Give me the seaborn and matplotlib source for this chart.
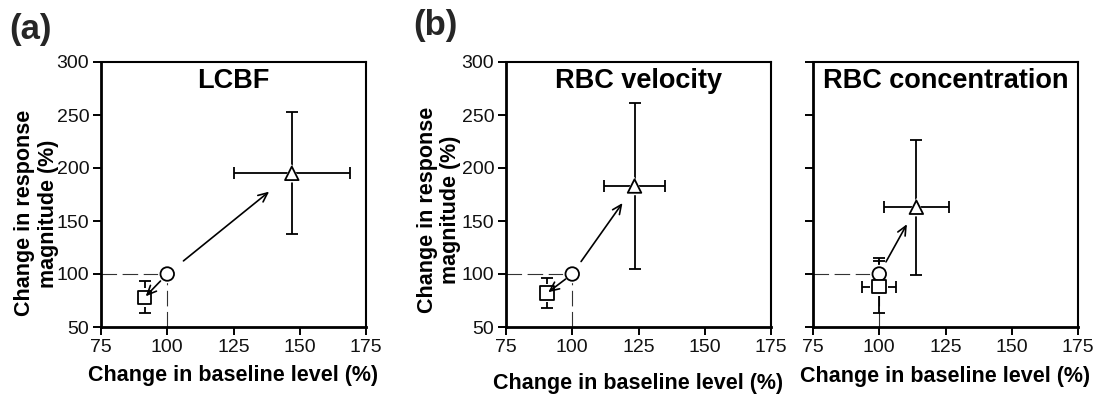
import numpy as np
import pandas as pd
import matplotlib
matplotlib.use("Agg")
import matplotlib.pyplot as plt
import seaborn as sns

# ---------------- data ----------------
conditions = ["Control", "Decrease", "Increase"]
marker_map = {"Control": "o", "Decrease": "s", "Increase": "^"}

panel_titles = ["LCBF", "RBC velocity", "RBC concentration"]

lcbf_x = [100, 91.5, 147]
lcbf_y = [100, 78, 195]
lcbf_xerr = [0, 0, 22]
lcbf_yerr = [0, 15, 57.5]

vel_x = [100, 90.5, 123.5]
vel_y = [100, 82, 183]
vel_xerr = [0, 0, 11.5]
vel_yerr = [0, 14, 78]

conc_x = [100, 100, 114]
conc_y = [100, 88, 163]
conc_xerr = [0, 6.5, 12.3]
conc_yerr = [15, 24.5, 63.5]

# arrows: (from condition index, to condition index)
lcbf_arrows = [(0, 1), (0, 2)]
vel_arrows = [(0, 1), (0, 2)]
conc_arrows = [(0, 2)]

baseline_ref = 100
x_ticks = [75, 100, 125, 150, 175]
y_ticks = [50, 100, 150, 200, 250, 300]

panel_letters = ["(a)", "(b)"]
xlabel_text = "Change in baseline level (%)"
ylabel_text = "Change in response\nmagnitude (%)"

# ---------------- style ----------------
sns.set_theme(style="ticks")
plt.rcParams["font.family"] = ["Liberation Sans", "DejaVu Sans"]

W, H = 1096, 394
fig = plt.figure(figsize=(W / 100, H / 100), dpi=100)

def fx(px):
    return px / W

def fy(px):
    return 1 - px / H

ax_left_px = [101, 506, 813]
ax_w_px = 265
ax_top_px, ax_bot_px = 62, 327

panels = [
    (lcbf_x, lcbf_y, lcbf_xerr, lcbf_yerr, lcbf_arrows),
    (vel_x, vel_y, vel_xerr, vel_yerr, vel_arrows),
    (conc_x, conc_y, conc_xerr, conc_yerr, conc_arrows),
]
# arrow shrink (points): target index -> (shrinkA, shrinkB)
shrinks = [
    {1: (7, 1), 2: (15, 21)},
    {1: (6, 1), 2: (11, 15)},
    {1: (6, 1), 2: (10, 14)},
]
xlabel_y = [-0.145, -0.172, -0.148]
ylabel_pos = [(-0.160, 0.429), (-0.170, 0.443), None]

for i, (xs, ys, xe, ye, arrows) in enumerate(panels):
    ax = fig.add_axes([fx(ax_left_px[i]), fy(ax_bot_px),
                       ax_w_px / W, (ax_bot_px - ax_top_px) / H])
    df = pd.DataFrame({"baseline": xs, "response": ys, "condition": conditions,
                       "xerr": xe, "yerr": ye})

    # reference dashed lines at 100 %
    ax.hlines(baseline_ref, x_ticks[0], baseline_ref, colors="#333333",
              linewidth=0.8, linestyles=(0, (14, 5)), zorder=1)
    ax.vlines(baseline_ref, y_ticks[0], baseline_ref, colors="#333333",
              linewidth=0.8, linestyles=(0, (14, 5)), zorder=1)

    # error bars
    for _, r in df.iterrows():
        if r["xerr"] > 0:
            ax.errorbar(r["baseline"], r["response"], xerr=r["xerr"], fmt="none",
                        ecolor="black", elinewidth=1.3, capsize=4, capthick=1.3, zorder=2)
        if r["yerr"] > 0:
            ax.errorbar(r["baseline"], r["response"], yerr=r["yerr"], fmt="none",
                        ecolor="black", elinewidth=1.3, capsize=4, capthick=1.3, zorder=2)

    # white halo + open markers
    sns.scatterplot(data=df, x="baseline", y="response", style="condition",
                    markers=marker_map, s=175, color="white", edgecolor="none",
                    linewidth=0, legend=False, ax=ax, zorder=3)
    sns.scatterplot(data=df, x="baseline", y="response", style="condition",
                    markers=marker_map, s=95, color="white", edgecolor="black",
                    linewidth=1.3, legend=False, ax=ax, zorder=4)

    # arrows
    for a, b in arrows:
        sa, sb = shrinks[i][b]
        ax.annotate("", xy=(xs[b], ys[b]), xytext=(xs[a], ys[a]),
                    arrowprops=dict(arrowstyle="->,head_length=0.55,head_width=0.25",
                                    color="black", lw=1.2, shrinkA=sa, shrinkB=sb),
                    zorder=5)

    ax.set_xlim(x_ticks[0], x_ticks[-1])
    ax.set_ylim(y_ticks[0], y_ticks[-1])
    ax.set_xticks(x_ticks)
    ax.set_yticks(y_ticks)
    ax.tick_params(axis="both", direction="out", length=5.5, width=1.4,
                   labelsize=14, pad=3, color="black", labelcolor="#111111")
    for side, sp in ax.spines.items():
        sp.set_color("black")
        sp.set_linewidth(2.0 if side in ("left", "bottom") else 1.5)
    ax.set_facecolor("white")

    ax.text(0.5, 0.93, panel_titles[i], transform=ax.transAxes, ha="center", va="center",
            fontsize=19.5, fontweight="bold", color="black")

    ax.set_xlabel(xlabel_text, fontsize=15.5, fontweight="bold", color="black")
    ax.xaxis.set_label_coords(0.5, xlabel_y[i])
    if ylabel_pos[i] is not None:
        ax.set_ylabel(ylabel_text, fontsize=15.5, fontweight="bold", color="black",
                      linespacing=1.15)
        ax.yaxis.set_label_coords(*ylabel_pos[i])
    else:
        ax.set_ylabel("")
        ax.tick_params(axis="y", labelleft=False)

fig.text(fx(9), fy(13), panel_letters[0], fontsize=25, fontweight="bold", va="top", ha="left")
fig.text(fx(413), fy(9), panel_letters[1], fontsize=25, fontweight="bold", va="top", ha="left")

fig.savefig("out.png", dpi=100, facecolor="white")
